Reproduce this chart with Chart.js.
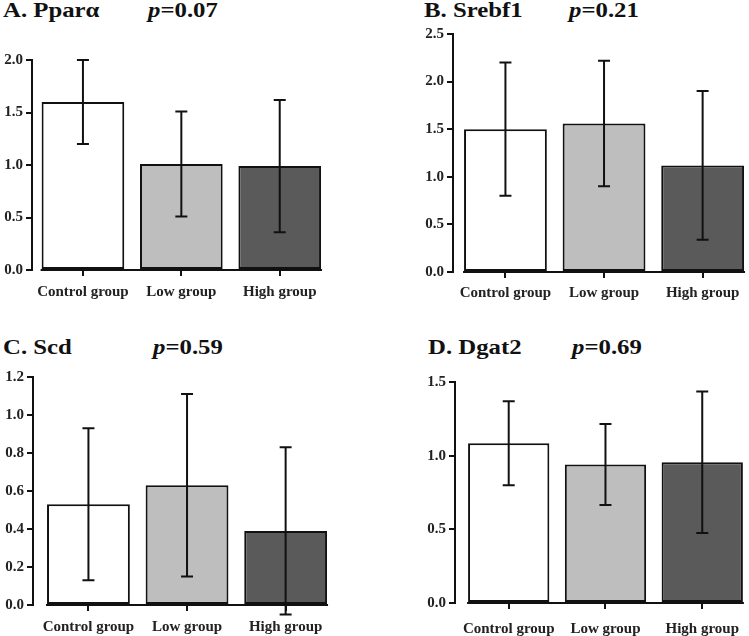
<!DOCTYPE html>
<html>
<head>
<meta charset="utf-8">
<script src="https://cdn.jsdelivr.net/npm/chart.js@4.4.1/dist/chart.umd.min.js"></script>
<style>
  html, body { margin: 0; padding: 0; background: #fff; overflow: hidden; width: 749px; height: 636px; }
  canvas { position: absolute; }
  .title { position: absolute; font: bold 21px "Times New Roman", "Liberation Serif", Tinos, serif; line-height: 21px;
           color: #111; white-space: nowrap; transform: scaleX(1.18); transform-origin: 0 0; }
</style>
</head>
<body>
<div class="title" style="left:3px;top:0px">A. Pparα</div>
<div class="title" style="left:148px;top:0px"><i>p</i>=0.07</div>
<div class="title" style="left:424px;top:0px">B. Srebf1</div>
<div class="title" style="left:569px;top:0px"><i>p</i>=0.21</div>
<div class="title" style="left:3px;top:337px">C. Scd</div>
<div class="title" style="left:153px;top:337px"><i>p</i>=0.59</div>
<div class="title" style="left:428px;top:337px">D. Dgat2</div>
<div class="title" style="left:572px;top:337px"><i>p</i>=0.69</div>

<canvas id="cA"></canvas>
<canvas id="cB"></canvas>
<canvas id="cC"></canvas>
<canvas id="cD"></canvas>

<script>
// groups and values (mean ± error)
const groups = ['Control group', 'Low group', 'High group'];
const barColors = ['#ffffff', '#bebebe', '#5a5a5a'];

const ppara = [1.60, 1.01, 0.99];
const pparaErr = [0.40, 0.50, 0.63];

const srebf1 = [1.50, 1.56, 1.12];
const srebf1Err = [0.70, 0.66, 0.78];

const scd = [0.53, 0.63, 0.39];
const scdErr = [0.40, 0.48, 0.44];

const dgat2 = [1.085, 0.94, 0.955];
const dgat2Err = [0.285, 0.275, 0.48];

const FONT = '"Times New Roman", "Liberation Serif", Tinos, serif';
const Y_W = 36, X_H = 36, PAD_TOP = 10;

// error bars + x axis line (from first bar to last bar, like the original)
const extras = {
  id: 'extras',
  afterDatasetsDraw(chart) {
    const ctx = chart.ctx;
    const y = chart.scales.y;
    const meta = chart.getDatasetMeta(0);
    const ds = chart.data.datasets[0];
    ctx.save();
    ctx.strokeStyle = '#111';
    ctx.lineWidth = 2;
    // x axis
    const first = meta.data[0], last = meta.data[meta.data.length - 1];
    const y0 = y.getPixelForValue(0);
    ctx.beginPath();
    ctx.moveTo(first.x - first.width / 2 - 1, y0);
    ctx.lineTo(last.x + last.width / 2 + 1, y0);
    ctx.stroke();
    // error bars
    meta.data.forEach((bar, i) => {
      const v = ds.data[i].y, e = ds.errors[i];
      const top = y.getPixelForValue(v + e), bot = y.getPixelForValue(v - e);
      ctx.beginPath();
      ctx.moveTo(bar.x, top); ctx.lineTo(bar.x, bot);
      ctx.moveTo(bar.x - 6, top); ctx.lineTo(bar.x + 6, top);
      ctx.moveTo(bar.x - 6, bot); ctx.lineTo(bar.x + 6, bot);
      ctx.stroke();
    });
    ctx.restore();
  }
};

function panel(id, box, values, errors, yMax, yStep) {
  const cv = document.getElementById(id);
  const left = box.axisX - Y_W;
  const top = box.topY - PAD_TOP;
  const right = box.c0 + 2.45 * box.step;
  const w = Math.round(right - left), h = Math.round(box.bottomY + X_H - top);
  cv.style.left = left + 'px';
  cv.style.top = top + 'px';
  cv.width = w; cv.height = h;
  cv.style.width = w + 'px'; cv.style.height = h + 'px';

  new Chart(cv, {
    type: 'bar',
    data: {
      datasets: [{
        data: values.map((v, i) => ({ x: i, y: v })),
        errors: errors,
        backgroundColor: barColors,
        borderColor: '#111',
        borderWidth: 2,
        borderSkipped: false,
        barPercentage: 0.84,
        categoryPercentage: 1.0
      }]
    },
    options: {
      responsive: false,
      animation: false,
      layout: { padding: { top: PAD_TOP, left: 0, right: 0, bottom: 0 } },
      plugins: { legend: { display: false }, tooltip: { enabled: false } },
      scales: {
        x: {
          type: 'linear',
          offset: false,
          min: (box.axisX - box.c0) / box.step,
          max: 2.45,
          afterBuildTicks: s => { s.ticks = groups.map((g, i) => ({ value: i })); },
          afterFit: s => { s.height = X_H; },
          border: { display: false },
          grid: { drawOnChartArea: false, offset: false, color: '#111', lineWidth: 2, tickLength: 6 },
          ticks: {
            autoSkip: false, maxRotation: 0, padding: box.labelPad, color: '#222',
            font: { family: FONT, size: 15, weight: 'bold' },
            callback: v => groups[v]
          }
        },
        y: {
          min: 0, max: yMax,
          afterFit: s => { s.width = Y_W; },
          border: { display: true, color: '#111', width: 2 },
          grid: { drawOnChartArea: false, color: '#111', lineWidth: 2, tickLength: 6 },
          ticks: {
            stepSize: yStep, padding: 3, color: '#222',
            font: { family: FONT, size: 15, weight: 'bold' },
            callback: v => v.toFixed(1)
          }
        }
      }
    },
    plugins: [extras]
  });
}

panel('cA', { axisX: 32, topY: 58, bottomY: 270, c0: 83, step: 98.5, labelPad: 7 }, ppara, pparaErr, 2.0, 0.5);
panel('cB', { axisX: 453, topY: 32, bottomY: 272, c0: 505.5, step: 98.7, labelPad: 6 }, srebf1, srebf1Err, 2.5, 0.5);
panel('cC', { axisX: 33, topY: 375, bottomY: 605, c0: 88.5, step: 98.7, labelPad: 7 }, scd, scdErr, 1.2, 0.2);
panel('cD', { axisX: 455, topY: 380, bottomY: 603, c0: 509.5, step: 98.2, labelPad: 11 }, dgat2, dgat2Err, 1.5, 0.5);
</script>
</body>
</html>
